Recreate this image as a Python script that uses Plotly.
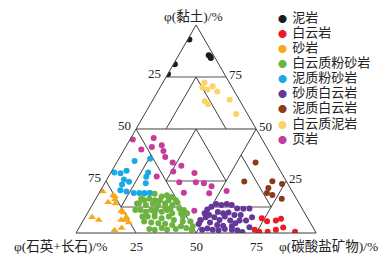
import plotly.graph_objects as go

# ---------------- data (clay %, quartz+feldspar %, carbonate %) ----------------
categories = ["泥岩", "白云岩", "砂岩", "白云质粉砂岩", "泥质粉砂岩",
              "砂质白云岩", "泥质白云岩", "白云质泥岩", "页岩"]

mudstone = [(93.0, 6.3, 0.7), (85.5, 2.0, 12.5), (84.9, 1.7, 13.4), (84.1, 1.8, 14.1),
            (81.1, 18.3, 0.6), (76.4, 23.5, 0.1)]

dolostone = [(7.1, 19.1, 73.8), (5.7, 17.6, 76.7), (6.0, 13.8, 80.2), (6.9, 11.2, 81.9),
             (2.7, 12.4, 84.9), (0.6, 8.5, 90.9), (1.6, 24.8, 73.6), (0.6, 23.4, 76.0),
             (0.6, 19.9, 79.5), (1.6, 16.0, 82.4)]

sandstone = [(20.0, 78.9, 1.1), (18.1, 75.5, 6.4), (17.6, 75.0, 7.4), (16.1, 75.7, 8.2),
             (14.8, 79.2, 6.0), (14.2, 76.5, 9.3), (10.6, 75.9, 13.5), (9.9, 75.3, 14.8),
             (7.6, 75.2, 17.2), (7.6, 89.5, 2.9), (6.3, 87.4, 6.3), (6.3, 78.1, 15.6),
             (6.3, 76.3, 17.4), (5.0, 75.5, 19.5), (2.4, 79.8, 17.8), (1.3, 83.3, 15.4)]

dolomitic_siltstone = [
    (18.9, 62.2, 18.9), (19.2, 59.6, 21.2), (18.9, 57.8, 23.3), (17.6, 55.5, 26.9),
    (18.1, 53.1, 28.8), (17.3, 51.6, 31.1), (15.7, 50.6, 33.7), (16.5, 61.2, 22.3),
    (15.7, 59.4, 24.9), (15.7, 63.8, 20.5), (14.2, 66.7, 19.1), (13.4, 64.2, 22.4),
    (14.2, 60.9, 24.9), (13.4, 59.1, 27.5), (14.2, 55.8, 30.0), (13.4, 53.2, 33.4),
    (11.8, 51.1, 37.1), (11.0, 49.6, 39.4), (11.0, 67.6, 21.4), (10.2, 65.8, 24.0),
    (11.0, 63.2, 25.8), (11.3, 60.9, 27.8), (10.2, 59.2, 30.6), (11.0, 56.6, 32.4),
    (9.5, 55.2, 35.3), (9.5, 51.5, 39.0), (9.5, 49.0, 41.5), (7.9, 68.4, 23.7),
    (7.9, 66.2, 25.9), (7.9, 63.3, 28.8), (7.1, 60.8, 32.1), (7.9, 57.4, 34.7),
    (6.3, 56.1, 37.6), (5.5, 52.8, 41.7), (5.5, 49.6, 44.9), (3.2, 49.8, 47.0),
    (5.5, 68.9, 25.6), (5.0, 66.2, 28.8), (4.7, 63.4, 31.9), (4.4, 60.7, 34.9),
    (3.9, 58.0, 38.1), (3.2, 54.7, 42.1), (2.4, 52.9, 44.7), (1.6, 66.4, 32.0),
    (2.4, 63.1, 34.5), (1.6, 61.3, 37.1), (1.9, 57.5, 40.6), (1.6, 51.1, 47.3),
    (1.9, 68.5, 29.6), (14.2, 67.5, 18.3), (11.0, 69.8, 19.2), (16.5, 64.6, 18.9),
    (15.7, 53.6, 30.7), (14.5, 50.5, 35.0), (7.9, 51.6, 40.5), (9.5, 62.5, 28.0),
    (15.7, 57.2, 27.1), (12.6, 56.6, 30.8), (11.8, 54.8, 33.4)]

argillaceous_siltstone = [
    (35.7, 51.3, 13.0), (34.6, 58.3, 7.1), (29.1, 69.5, 1.4), (28.7, 67.1, 4.2),
    (29.9, 64.0, 6.1), (29.1, 55.4, 15.5), (27.1, 57.2, 15.7), (25.7, 67.2, 7.1),
    (24.6, 65.6, 9.8), (23.3, 69.2, 7.5), (23.9, 59.0, 17.1), (20.5, 71.3, 8.2),
    (20.0, 69.0, 11.0), (19.2, 66.4, 14.4), (19.2, 64.1, 16.7), (19.2, 61.9, 18.9),
    (19.2, 59.7, 21.1)]

sandy_dolostone = [
    (6.3, 45.1, 48.6), (4.3, 46.8, 48.9), (1.6, 46.7, 51.7), (9.5, 41.7, 48.8),
    (11.3, 39.7, 49.0), (12.6, 37.3, 50.1), (13.9, 34.7, 51.4), (13.5, 32.7, 53.8),
    (13.9, 30.3, 55.8), (13.5, 28.4, 58.1), (11.8, 27.0, 61.2), (11.7, 24.5, 63.8),
    (11.8, 21.9, 66.3), (7.6, 42.2, 50.2), (5.0, 41.7, 53.3), (7.6, 38.6, 53.8),
    (10.1, 35.9, 54.0), (9.5, 34.0, 56.5), (9.8, 31.6, 58.6), (8.7, 29.7, 61.6),
    (8.7, 27.1, 64.2), (6.3, 37.1, 56.6), (7.9, 34.1, 58.0), (6.0, 32.8, 61.2),
    (4.7, 31.3, 64.0), (6.0, 28.9, 65.1), (6.0, 26.2, 67.8), (7.6, 22.9, 69.5),
    (3.8, 39.3, 56.9), (3.5, 37.0, 59.5), (2.2, 44.2, 53.6), (1.6, 42.3, 56.1),
    (1.3, 40.0, 58.7), (1.9, 37.1, 61.0), (1.6, 34.3, 64.1), (1.3, 32.2, 66.5),
    (0.5, 30.5, 69.0), (2.8, 26.4, 70.8), (3.2, 33.5, 63.3), (8.7, 40.2, 51.1)]

argillaceous_dolostone = [(33.9, 8.3, 57.8), (24.7, 17.6, 57.7), (24.9, 5.8, 69.3),
                          (23.6, 2.4, 74.0), (21.6, 9.1, 69.3), (19.2, 10.9, 69.9),
                          (18.3, 9.1, 72.6), (16.5, 6.1, 77.4)]

dolomitic_mudstone = [(72.4, 10.3, 17.3), (70.1, 12.4, 17.5), (69.0, 10.8, 20.2),
                      (70.6, 7.8, 21.6), (68.0, 7.2, 24.8), (63.3, 14.7, 22.0),
                      (61.9, 14.1, 24.0), (64.1, 4.0, 31.9), (57.2, 4.7, 38.1)]

shale = [(44.9, 53.9, 1.2), (45.7, 44.8, 9.5), (40.2, 52.7, 7.1), (41.4, 47.7, 10.9),
         (42.2, 43.2, 14.6), (39.4, 43.9, 16.7), (36.5, 44.6, 18.9), (33.9, 42.8, 23.3),
         (32.3, 40.0, 27.7), (29.6, 44.7, 25.7), (27.2, 52.8, 20.0), (28.8, 36.3, 34.9),
         (24.4, 44.8, 30.8), (24.4, 37.9, 37.7), (23.9, 34.8, 41.3), (22.5, 32.3, 45.2),
         (19.1, 35.0, 45.9), (20.2, 27.2, 52.6), (19.4, 45.4, 35.2), (10.7, 45.4, 43.9)]

series = [mudstone, dolostone, sandstone, dolomitic_siltstone, argillaceous_siltstone,
          sandy_dolostone, argillaceous_dolostone, dolomitic_mudstone, shale]

# classification boundaries (clay, qf, carbonate)
dark_boundaries = [
    ((50, 50, 0), (50, 0, 50)),
    ((50, 50, 0), (0, 50, 50)),
    ((50, 0, 50), (0, 50, 50)),
    ((75, 12.5, 12.5), (50, 37.5, 12.5)),
    ((75, 12.5, 12.5), (50, 12.5, 37.5)),
    ((50, 25, 25), (25, 50, 25)),
    ((50, 25, 25), (25, 25, 50)),
    ((25, 75, 0), (0, 75, 25)),
    ((12.5, 75, 12.5), (37.5, 50, 12.5)),
    ((25, 0, 75), (0, 25, 75)),
    ((12.5, 12.5, 75), (37.5, 12.5, 50)),
]
grey_boundaries = [
    ((75, 25, 0), (75, 0, 25)),
    ((25, 50, 25), (25, 25, 50)),
    ((12.5, 75, 12.5), (12.5, 50, 37.5)),
    ((12.5, 12.5, 75), (12.5, 37.5, 50)),
]

tick_values = [25, 50, 75]
axis_titles = ["φ(黏土)/%", "φ(石英+长石)/%", "φ(碳酸盐矿物)/%"]

# ---------------- styles ----------------
colors = ["#1c1c1c", "#ec1c24", "#f7a81b", "#6db33f", "#1ba9e6",
          "#65379a", "#8b3a1e", "#fdd267", "#c63b9b"]
symbols = ["circle", "circle", "triangle-up", "circle", "circle",
           "circle", "circle", "circle", "circle"]
sizes = [6, 6, 7, 6, 6, 6, 6, 6, 6]
line_color = "#3f3f3f"
num_font = "Liberation Serif, Noto Sans CJK SC"
cjk_font = "Noto Sans CJK SC"

W, H = 390, 263
OFF = 8  # page offset of the plot inside the browser window

# triangle placement in the window (px)
tri_left, tri_right, tri_bottom = 76, 316.2, 233
tri_w = tri_right - tri_left
tri_h = tri_w * 3 ** 0.5 / 2
tri_top = tri_bottom - tri_h


def px(x):
    return (x - OFF) / W


def py(y):
    return 1 - (y - OFF) / H


fig = go.Figure()


def add_lines(segs, color, width):
    la, lb, lc = [], [], []
    for p, q in segs:
        la += [p[0], q[0], None]
        lb += [p[1], q[1], None]
        lc += [p[2], q[2], None]
    fig.add_trace(go.Scatterternary(a=la, b=lb, c=lc, mode="lines",
                                    line=dict(color=color, width=width),
                                    hoverinfo="skip", showlegend=False))


add_lines(grey_boundaries, "#8c8c8c", 1.4)
add_lines(dark_boundaries, line_color, 1)

# data points
for name, pts, col, sym, sz in zip(categories, series, colors, symbols, sizes):
    fig.add_trace(go.Scatterternary(
        a=[p[0] for p in pts], b=[p[1] for p in pts], c=[p[2] for p in pts],
        mode="markers", name=name, showlegend=False,
        marker=dict(color=col, symbol=sym, size=sz, line=dict(width=0))))

axis_style = dict(showgrid=False, showticklabels=False, ticks="", showline=True,
                  linecolor=line_color, linewidth=1, title=dict(text=""), min=0)

title_font = dict(family=num_font, size=13.5, color="#222")
tick_font = dict(family=num_font, size=13, color="#222")

annotations = [
    dict(text=axis_titles[0], x=px(193), y=py(16), xanchor="center", yanchor="middle",
         font=title_font),
    dict(text=axis_titles[1], x=px(60), y=py(246), xanchor="center", yanchor="middle",
         font=title_font),
    dict(text=axis_titles[2], x=px(328), y=py(246), xanchor="center", yanchor="middle",
         font=title_font),
]

# edge tick labels placed beside the triangle edges
for t in tick_values:
    frac = t / 100
    # left edge: quartz+feldspar = t  (clay = 100 - t)
    ex = tri_left + tri_w / 2 * (1 - frac)
    ey = tri_bottom - tri_h * (1 - frac)
    annotations.append(dict(text=str(t), x=px(ex - 3), y=py(ey - 3),
                            xanchor="right", yanchor="middle", font=tick_font))
    # right edge: clay = t
    ex = tri_right - tri_w / 2 * frac
    ey = tri_bottom - tri_h * frac
    annotations.append(dict(text=str(t), x=px(ex + 1), y=py(ey - 2),
                            xanchor="left", yanchor="middle", font=tick_font))
    # bottom edge: carbonate = t
    annotations.append(dict(text=str(t), x=px(tri_left + tri_w * frac), y=py(246),
                            xanchor="center", yanchor="middle", font=tick_font))

for an in annotations:
    an.update(xref="paper", yref="paper", showarrow=False)

# compact legend block (rows 15 px apart, as in the original figure)
legend_rows = [
    f'<span style="color:{col};font-size:9px">●</span>  '
    f'<span style="font-size:13px">{name}</span>'
    for name, col in zip(categories, colors)
]
annotations.append(dict(text="<br>".join(legend_rows), x=px(276), y=py(77),
                        xref="paper", yref="paper", xanchor="left", yanchor="middle",
                        align="left", showarrow=False,
                        font=dict(family=cjk_font, size=11.6, color="#222")))

fig.update_layout(
    width=W, height=H, margin=dict(l=0, r=0, t=0, b=0),
    paper_bgcolor="white", showlegend=False,
    ternary=dict(sum=100, bgcolor="white",
                 domain=dict(x=[px(tri_left), px(tri_right)],
                             y=[py(tri_bottom), py(tri_top)]),
                 aaxis=axis_style, baxis=axis_style, caxis=axis_style),
    annotations=annotations,
)

fig.write_html("out.html")
